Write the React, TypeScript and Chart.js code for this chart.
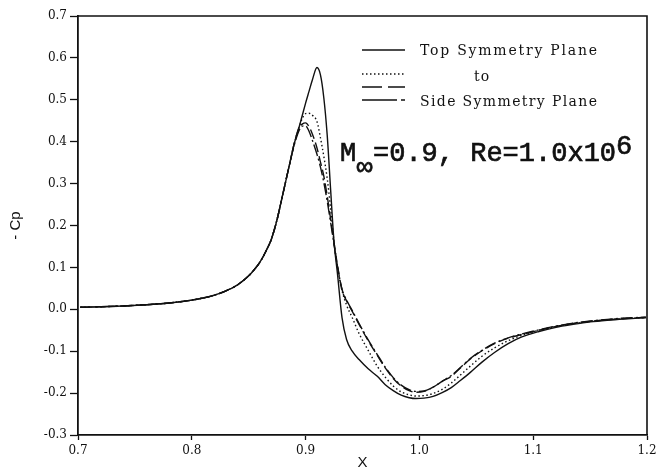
import React, { useEffect, useRef } from "react";
import { Chart, registerables } from "chart.js";

Chart.register(...registerables);

// ---------- data ----------
const xPositions = [
  0.702, 0.72, 0.74, 0.76, 0.78, 0.8, 0.81, 0.82, 0.83, 0.84, 0.85, 0.855, 0.86, 0.865, 0.87, 0.875, 0.88, 0.885, 0.89,
  0.894, 0.897, 0.9, 0.903, 0.906, 0.91, 0.913, 0.916, 0.919, 0.922, 0.925, 0.928, 0.932, 0.936, 0.941, 0.947, 0.955,
  0.963, 0.97, 0.977, 0.984, 0.991, 0.997, 1.004, 1.012, 1.02, 1.028, 1.036, 1.045, 1.055, 1.066, 1.078, 1.09, 1.105,
  1.12, 1.135, 1.15, 1.165, 1.18, 1.199,
];

// Top symmetry plane (solid)
const topPlaneCp = [
  0.005, 0.006, 0.008, 0.011, 0.015, 0.022, 0.027, 0.034, 0.044, 0.058, 0.08, 0.095, 0.113, 0.138, 0.168, 0.215, 0.275, 0.335, 0.395,
  0.432, 0.462, 0.492, 0.52, 0.548, 0.577, 0.56, 0.505, 0.415, 0.285, 0.16, 0.085, -0.02, -0.072, -0.1, -0.12, -0.142,
  -0.16, -0.18, -0.194, -0.205, -0.211, -0.213, -0.212, -0.208, -0.199, -0.187, -0.17, -0.15, -0.126, -0.103, -0.082, -0.066, -0.053,
  -0.043, -0.036, -0.03, -0.026, -0.023, -0.02,
];

// Intermediate plane (dotted)
const midPlaneACp = [
  0.005, 0.006, 0.008, 0.011, 0.015, 0.022, 0.027, 0.034, 0.044, 0.058, 0.08, 0.095, 0.113, 0.138, 0.168, 0.215, 0.275, 0.335, 0.395,
  0.432, 0.455, 0.467, 0.468, 0.463, 0.448, 0.41, 0.365, 0.312, 0.24, 0.16, 0.1, 0.045, 0.01, -0.02, -0.058, -0.098,
  -0.136, -0.162, -0.183, -0.197, -0.204, -0.207, -0.206, -0.201, -0.191, -0.176, -0.157, -0.135, -0.112, -0.092, -0.075, -0.062, -0.05,
  -0.041, -0.034, -0.029, -0.025, -0.022, -0.02,
];

// Intermediate plane (dashed)
const midPlaneBCp = [
  0.005, 0.006, 0.008, 0.011, 0.015, 0.022, 0.027, 0.034, 0.044, 0.058, 0.08, 0.095, 0.113, 0.138, 0.168, 0.215, 0.275, 0.335, 0.395,
  0.432, 0.442, 0.445, 0.436, 0.418, 0.385, 0.352, 0.318, 0.27, 0.215, 0.158, 0.105, 0.046, 0.02, -0.005, -0.036, -0.075,
  -0.11, -0.14, -0.165, -0.183, -0.194, -0.198, -0.196, -0.186, -0.172, -0.16, -0.14, -0.118, -0.099, -0.082, -0.069, -0.06, -0.05,
  -0.041, -0.034, -0.029, -0.025, -0.022, -0.019,
];

// Side symmetry plane (dash-dot)
const sidePlaneCp = [
  0.005, 0.006, 0.008, 0.011, 0.015, 0.022, 0.027, 0.034, 0.044, 0.058, 0.08, 0.095, 0.113, 0.138, 0.168, 0.215, 0.275, 0.335, 0.392,
  0.425, 0.437, 0.438, 0.425, 0.403, 0.37, 0.34, 0.303, 0.258, 0.207, 0.155, 0.103, 0.048, 0.022, -0.003, -0.034, -0.073,
  -0.108, -0.138, -0.163, -0.181, -0.192, -0.196, -0.195, -0.186, -0.172, -0.158, -0.139, -0.117, -0.098, -0.081, -0.068, -0.059, -0.049,
  -0.04, -0.033, -0.028, -0.024, -0.021, -0.019,
];

const xTickValues = [0.7, 0.8, 0.9, 1.0, 1.1, 1.2];
const yTickValues = [-0.3, -0.2, -0.1, 0.0, 0.1, 0.2, 0.3, 0.4, 0.5, 0.6, 0.7];

const legendTopText = "Top Symmetry Plane";
const legendMidText = "to";
const legendSideText = "Side Symmetry Plane";
const annotationMain = "=0.9, Re=1.0x10";
const annotationM = "M";
const annotationSub = "\u221E";
const annotationSup = "6";

const INK = "#111";

const overlayPlugin = {
  id: "overlay",
  afterDraw(chart: any) {
    const ctx: CanvasRenderingContext2D = chart.ctx;
    const { left, right, top, bottom } = chart.chartArea;
    ctx.save();
    // frame (top + right)
    ctx.strokeStyle = INK;
    ctx.lineWidth = 1.6;
    ctx.setLineDash([]);
    ctx.beginPath();
    ctx.moveTo(left, top);
    ctx.lineTo(right, top);
    ctx.lineTo(right, bottom);
    ctx.stroke();

    // legend samples
    const seg = (y: number, dash: number[]) => {
      ctx.setLineDash(dash);
      ctx.lineWidth = 1.3;
      ctx.beginPath();
      ctx.moveTo(362, y);
      ctx.lineTo(405, y);
      ctx.stroke();
    };
    seg(50, []);
    seg(74, [1.5, 2.5]);
    seg(87, [20, 6]);
    seg(100, [35, 4, 4, 10]);
    ctx.setLineDash([]);

    // legend text
    ctx.fillStyle = INK;
    ctx.textBaseline = "alphabetic";
    ctx.textAlign = "left";
    ctx.font = '14px "DejaVu Serif"';
    const fitText = (t: string, x: number, y: number, w: number) => {
      (ctx as any).letterSpacing = "0px";
      const base = ctx.measureText(t).width;
      const ls = Math.max(0, (w - base) / (t.length - 1));
      (ctx as any).letterSpacing = ls + "px";
      ctx.fillText(t, x, y);
      (ctx as any).letterSpacing = "0px";
    };
    fitText(legendTopText, 420, 55, 177);
    fitText(legendSideText, 420, 105.5, 177);
    (ctx as any).letterSpacing = "1px";
    ctx.fillText(legendMidText, 474, 81);
    (ctx as any).letterSpacing = "0px";

    // annotation
    ctx.font = '27px "Liberation Mono", "DejaVu Sans Mono", monospace';
    ctx.lineWidth = 0.7;
    ctx.strokeStyle = INK;
    const put = (t: string, x: number, y: number) => {
      ctx.fillText(t, x, y);
      ctx.strokeText(t, x, y);
    };
    put(annotationM, 340, 161);
    put(annotationSub, 356.5, 175);
    put(annotationMain, 373, 161);
    const w = ctx.measureText(annotationMain).width;
    put(annotationSup, 373 + w, 154);
    ctx.restore();
  },
};

export default function App() {
  const canvasRef = useRef<HTMLCanvasElement | null>(null);

  useEffect(() => {
    if (!canvasRef.current) return;
    const mk = (data: number[]) => xPositions.map((x, i) => ({ x, y: data[i] }));
    const common = {
      borderColor: INK,
      backgroundColor: INK,
      borderWidth: 1.4,
      pointRadius: 0,
      fill: false,
      cubicInterpolationMode: "monotone" as const,
      showLine: true,
    };
    const tickFont = { family: "'DejaVu Serif'", size: 12 };
    const chart = new Chart(canvasRef.current, {
      type: "scatter",
      data: {
        datasets: [
          { ...common, label: "Top Symmetry Plane", data: mk(topPlaneCp) },
          { ...common, label: "Intermediate (dotted)", data: mk(midPlaneACp), borderDash: [1.5, 2.5] },
          { ...common, label: "Intermediate (dashed)", data: mk(midPlaneBCp), borderDash: [10, 4] },
          { ...common, label: "Side Symmetry Plane", data: mk(sidePlaneCp), borderDash: [12, 3, 2, 3] },
        ],
      },
      options: {
        animation: false,
        responsive: false,
        devicePixelRatio: 1,
        layout: { padding: { top: 16, right: 14, left: 0, bottom: 0 } },
        plugins: { legend: { display: false }, tooltip: { enabled: false } },
        scales: {
          x: {
            type: "linear",
            min: 0.7,
            max: 1.2,
            afterBuildTicks: (s: any) => {
              s.ticks = xTickValues.map((v) => ({ value: v }));
            },
            afterFit: (s: any) => {
              s.height = 40;
            },
            ticks: {
              callback: (v: any) => Number(v).toFixed(1),
              font: tickFont,
              color: INK,
              padding: 4,
              maxRotation: 0,
              autoSkip: false,
            },
            grid: { display: true, drawOnChartArea: false, drawTicks: true, tickLength: 5, color: INK, tickWidth: 1.3 },
            border: { display: true, color: INK, width: 1.8 },
            title: {
              display: true,
              text: "X",
              font: { family: "'Liberation Sans'", size: 15 },
              color: INK,
              padding: { top: 0, bottom: 3 },
            },
          },
          y: {
            type: "linear",
            min: -0.3,
            max: 0.7,
            afterBuildTicks: (s: any) => {
              s.ticks = yTickValues.map((v) => ({ value: v }));
            },
            afterFit: (s: any) => {
              s.width = 78;
            },
            ticks: {
              callback: (v: any) => Number(v).toFixed(1),
              font: tickFont,
              color: INK,
              padding: 3,
              autoSkip: false,
            },
            grid: { display: true, drawOnChartArea: false, drawTicks: true, tickLength: 8, color: INK, tickWidth: 1.3 },
            border: { display: true, color: INK, width: 1.8 },
            title: {
              display: true,
              text: "- Cp",
              font: { family: "'Liberation Sans'", size: 15 },
              color: INK,
              padding: { top: 7, bottom: 0 },
            },
          },
        },
      },
      plugins: [overlayPlugin],
    });
    return () => chart.destroy();
  }, []);

  return (
    <div style={{ position: "absolute", left: 0, top: 0, width: 661, height: 475, background: "#fff" }}>
      <canvas ref={canvasRef} width={661} height={475} style={{ display: "block", width: 661, height: 475 }} />
    </div>
  );
}
